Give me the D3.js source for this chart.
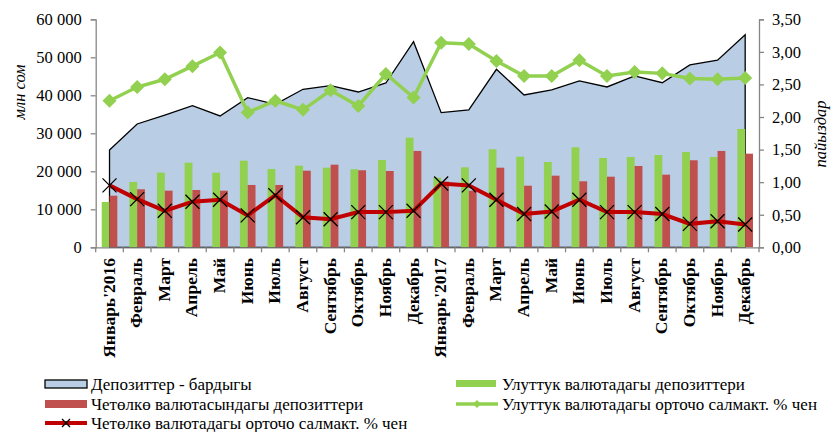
<!DOCTYPE html>
<html><head><meta charset="utf-8">
<script src="https://cdn.jsdelivr.net/npm/d3@7"></script>
<style>body{margin:0;background:#fff}svg{display:block}</style>
</head><body>
<script>
const categories = ["Январь'2016","Февраль","Март","Апрель","Май","Июнь","Июль","Август","Сентябрь","Октябрь","Ноябрь","Декабрь",
  "Январь'2017","Февраль","Март","Апрель","Май","Июнь","Июль","Август","Сентябрь","Октябрь","Ноябрь","Декабрь"];
const totalDeposits = [25600,32450,34800,37270,34560,39370,37640,41580,42530,40870,43240,54120,
  35430,36140,46850,40090,41400,43770,42190,45090,43320,47980,49220,55960];
const nationalDeposits = [11920,17190,19640,22270,19640,22800,20610,21480,20950,20530,22980,28850,
  18320,21050,25790,23850,22450,26320,23500,23770,24290,25080,23770,31140];
const foreignDeposits = [13580,15270,14900,15080,14900,16400,16400,20160,21740,20270,20080,25350,
  17270,14900,20950,16210,18850,17370,18580,21400,19110,22900,25350,24640];
const nationalRate = [2.25,2.46,2.58,2.78,2.99,2.07,2.25,2.11,2.41,2.17,2.66,2.30,
  3.14,3.12,2.86,2.63,2.63,2.87,2.63,2.69,2.67,2.59,2.58,2.60];
const foreignRate = [0.95,0.74,0.56,0.70,0.73,0.49,0.80,0.46,0.43,0.54,0.54,0.56,
  0.98,0.95,0.73,0.51,0.55,0.73,0.54,0.54,0.51,0.36,0.40,0.35];
const leftTicks = [0,10000,20000,30000,40000,50000,60000];
const rightTicks = [0,0.5,1,1.5,2,2.5,3,3.5];
const legendLabels = ["Депозиттер - бардыгы","Четөлкө валютасындагы депозиттери","Четөлкө валютадагы орточо салмакт. % чен",
  "Улуттук валютадагы депозиттери","Улуттук валютадагы орточо салмакт. % чен"];

const W=839,H=432;
const SERIF="Liberation Serif";
const NARROW="Liberation Sans Narrow";
const C={area:"#b9cde5",green:"#92d050",red:"#c0504d",redLine:"#c00000",axis:"#868686"};
const svg=d3.select("body").append("svg").attr("width",W).attr("height",H);
const idx=d3.range(categories.length);
const x=d3.scaleBand().domain(idx).range([95.7,759]).padding(0);
const sub=d3.scaleBand().domain(["n","f"]).range([-7.8,7.8]);
const yL=d3.scaleLinear().domain([0,60000]).range([247.3,19.3]);
const yR=d3.scaleLinear().domain([0,3.5]).range([247.3,19.3]);
const cx=i=>x(i)+x.bandwidth()/2;
const fmtL=d=>d3.format(",")(d).replace(/,/g," ");
const fmtR=d=>d3.format(".2f")(d).replace(".",",");

// area
const area=d3.area().x((d,i)=>cx(i)).y0(yL(0)).y1(d=>yL(d));
svg.append("path").datum(totalDeposits).attr("d",area).attr("fill",C.area).attr("stroke","#000").attr("stroke-width",1.3);

// bars
const g=svg.append("g");
g.selectAll(".bn").data(nationalDeposits).join("rect")
 .attr("x",(d,i)=>cx(i)+sub("n")).attr("width",sub.bandwidth()).attr("y",d=>yL(d)).attr("height",d=>yL(0)-yL(d)).attr("fill",C.green);
g.selectAll(".bf").data(foreignDeposits).join("rect")
 .attr("x",(d,i)=>cx(i)+sub("f")).attr("width",sub.bandwidth()).attr("y",d=>yL(d)).attr("height",d=>yL(0)-yL(d)).attr("fill",C.red);

// axes
const axL=svg.append("g").attr("transform","translate(95.7,0)").call(d3.axisLeft(yL).tickValues(leftTicks).tickFormat(fmtL).tickSize(5).tickPadding(9));
const axR=svg.append("g").attr("transform","translate(759,0)").call(d3.axisRight(yR).tickValues(rightTicks).tickFormat(fmtR).tickSize(5).tickPadding(8));
const axB=svg.append("g").attr("transform",`translate(0,${yL(0)})`).call(d3.axisBottom(x).tickValues([]).tickSizeOuter(0));
[axL,axR].forEach(a=>{a.selectAll("path,line").attr("stroke",C.axis).attr("stroke-width",1.3);
  a.selectAll("text").style("font-family",SERIF).style("font-size","16.5px").attr("fill","#000");});
axB.select("path").attr("stroke",C.axis).attr("stroke-width",1.3);
axB.selectAll(".bt").data(d3.range(categories.length+1)).join("line")
 .attr("x1",i=>95.7+i*x.step()).attr("x2",i=>95.7+i*x.step()).attr("y1",0).attr("y2",5).attr("stroke",C.axis).attr("stroke-width",1.3);
// category labels
svg.append("g").selectAll("text").data(categories).join("text")
 .attr("transform",(d,i)=>`translate(${cx(i)+5},258) rotate(-90)`).attr("text-anchor","end")
 .style("font-family",SERIF).style("font-weight","bold").style("font-size","17.5px").text(d=>d);

// lines
const lineR=d3.line().x((d,i)=>cx(i)).y(d=>yR(d));
svg.append("path").datum(nationalRate).attr("d",lineR).attr("fill","none").attr("stroke",C.green).attr("stroke-width",3.5);
svg.append("g").selectAll("path").data(nationalRate).join("path")
 .attr("transform",(d,i)=>`translate(${cx(i)},${yR(d)})`).attr("d","M0,-7L7,0L0,7L-7,0Z").attr("fill",C.green);
svg.append("path").datum(foreignRate).attr("d",lineR).attr("fill","none").attr("stroke",C.redLine).attr("stroke-width",4);
svg.append("g").selectAll("path").data(foreignRate).join("path")
 .attr("transform",(d,i)=>`translate(${cx(i)},${yR(d)})`).attr("d","M-7,-7L7,7M-7,7L7,-7").attr("stroke","#000").attr("stroke-width",1.3);

// axis titles
svg.append("text").attr("transform","translate(25,92) rotate(-90)").attr("text-anchor","middle")
 .style("font-family",SERIF).style("font-style","italic").style("font-size","16.5px").text("млн сом");
svg.append("text").attr("transform","translate(826,134) rotate(-90)").attr("text-anchor","middle")
 .style("font-family",SERIF).style("font-style","italic").style("font-size","16.5px").text("пайыздар");

// legend
const lg=svg.append("g").style("font-family",NARROW).style("font-size","17px");
const rows=[{x:45,y:384,t:0,k:"area"},{x:45,y:404,t:1,k:"red"},{x:45,y:423,t:2,k:"redline"},{x:456,y:384,t:3,k:"green"},{x:456,y:404,t:4,k:"greenline"}];
rows.forEach(r=>{
  const s=lg.append("g").attr("transform",`translate(${r.x},${r.y})`);
  if(r.k==="area") s.append("rect").attr("x",0).attr("y",-4).attr("width",42).attr("height",8).attr("fill",C.area).attr("stroke","#000").attr("stroke-width",1.3);
  if(r.k==="red") s.append("rect").attr("x",0).attr("y",-4).attr("width",42).attr("height",8).attr("fill",C.red);
  if(r.k==="green") s.append("rect").attr("x",0).attr("y",-4).attr("width",40).attr("height",7).attr("fill",C.green);
  if(r.k==="redline"){s.append("line").attr("x1",0).attr("x2",42).attr("stroke",C.redLine).attr("stroke-width",4);
    s.append("path").attr("d","M17,-4L25,4M17,4L25,-4").attr("stroke","#000").attr("stroke-width",1.3);}
  if(r.k==="greenline"){s.append("line").attr("x1",0).attr("x2",42).attr("stroke",C.green).attr("stroke-width",3.5);
    s.append("path").attr("d","M21,-4L25,0L21,4L17,0Z").attr("fill",C.green);}
  s.append("text").attr("x",46).attr("y",6).text(legendLabels[r.t]);
});
</script>
</body></html>
